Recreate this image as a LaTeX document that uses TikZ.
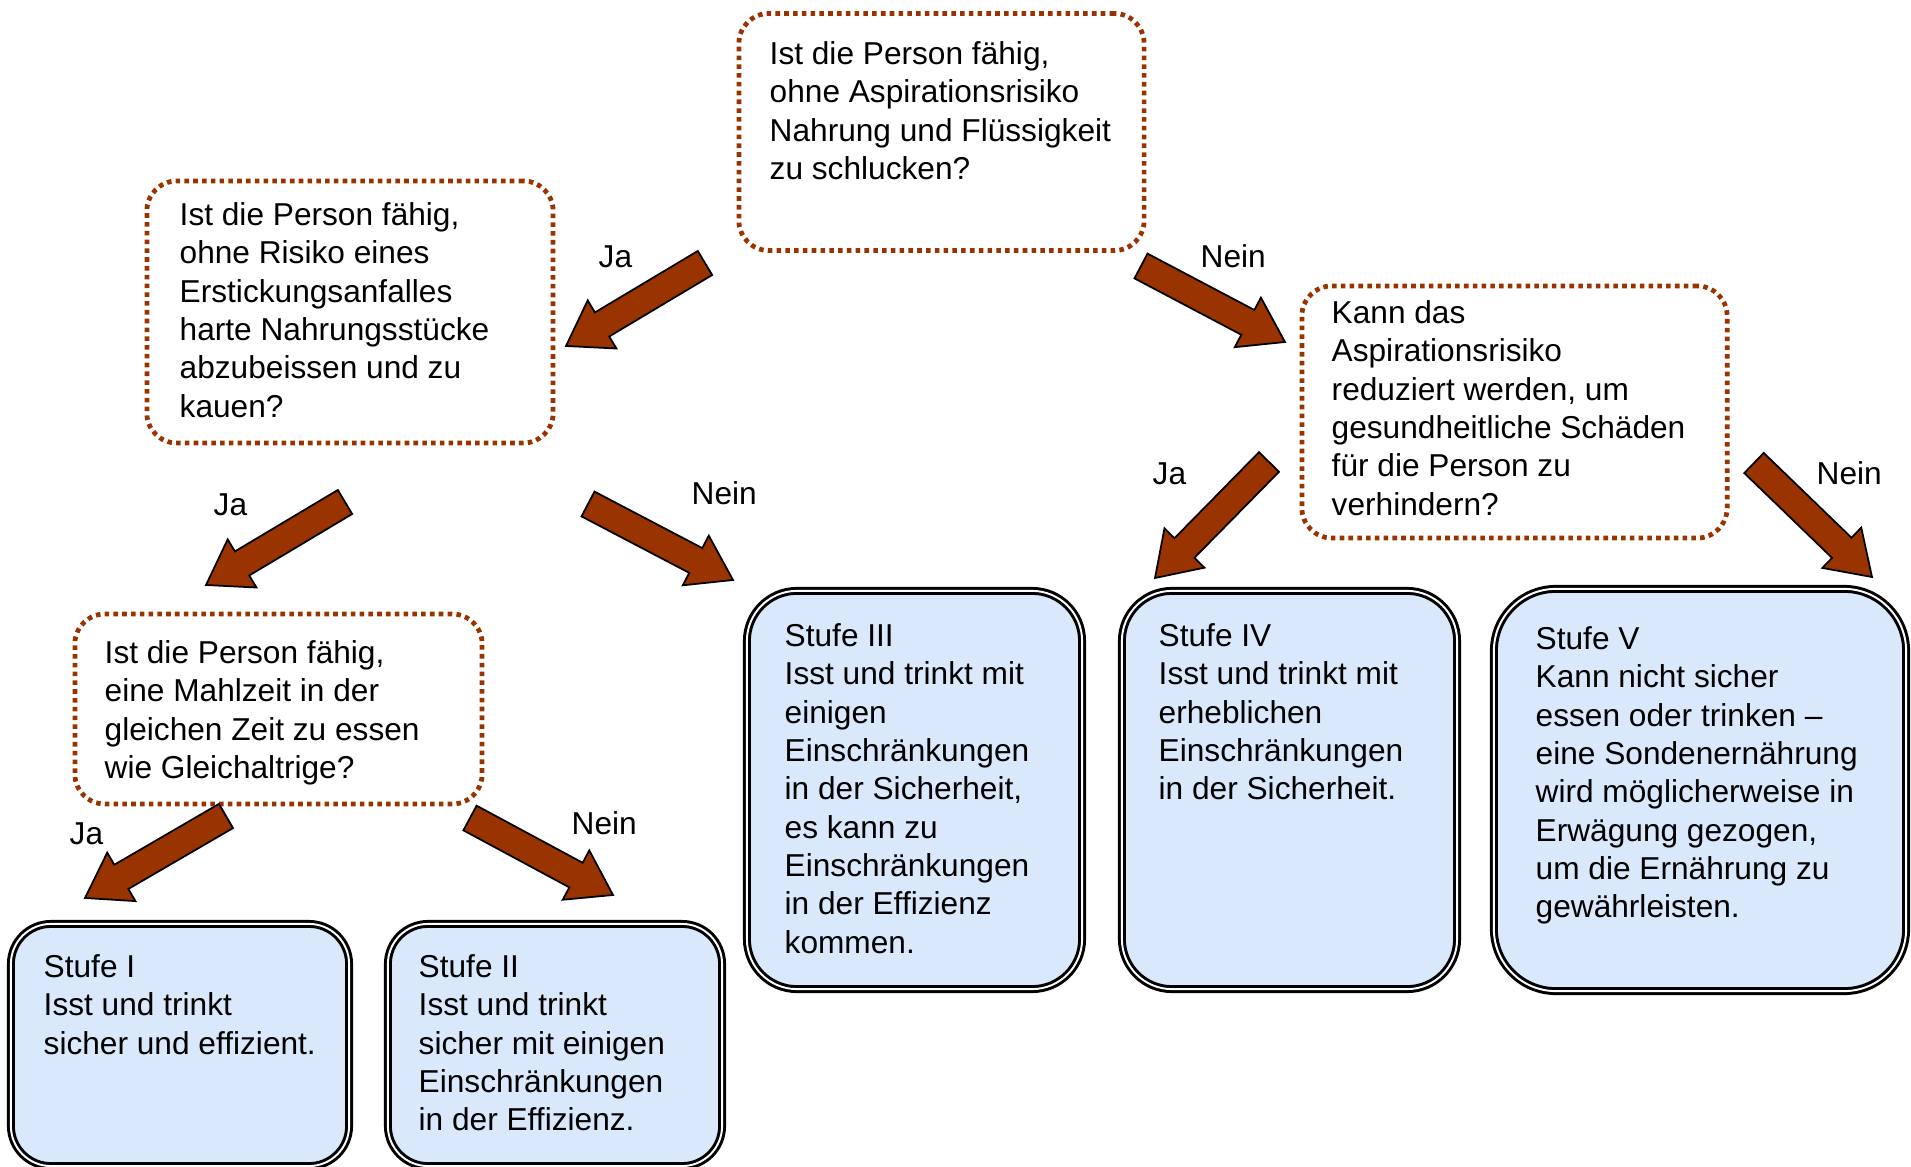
\documentclass[tikz,border=0pt]{standalone}
\usepackage{fontspec}
\setmainfont{Liberation Sans}
\usetikzlibrary{calc}
\definecolor{brn}{HTML}{993300}
\definecolor{lblue}{HTML}{DAE8FC}
\newcommand\blockarrow[2]{%
  \coordinate (#2h) at ($(#2)!11.95pt!(#1)$);
  \draw[blockarr] ($(#1)!3.98pt!90:(#2)$) -- ($(#2h)!3.98pt!90:(#2)$)
    -- ($(#2h)!7.97pt!90:(#2)$) -- (#2) -- ($(#2h)!7.97pt!-90:(#2)$)
    -- ($(#2h)!3.98pt!-90:(#2)$) -- ($(#1)!3.98pt!-90:(#2)$) -- cycle;}
\tikzset{
  qbox/.style={draw=brn, line width=1.35pt, dash pattern=on 1.3pt off 1.2pt,
    rounded corners=0.3cm, inner sep=0pt, outer sep=0pt},
  bluebox/.style={draw=black, double=white, line width=0.85pt, double distance=0.55pt,
    fill=lblue, inner sep=0pt, outer sep=0pt},
  blockarr/.style={draw=black, line width=0.5pt, fill=brn, line join=miter},
  txt/.style={anchor=north west, inner sep=0pt, align=left,
    font=\fontsize{9}{10.9}\selectfont},
  lbl/.style={anchor=base west, inner sep=0pt, font=\fontsize{9}{10.9}\selectfont}
}
\begin{document}
\begin{tikzpicture}[x=0.01cm, y=-0.01cm]
\useasboundingbox[fill=white] (0,0) rectangle (1911,1167);

% question boxes
\node[qbox, minimum width=4.05cm, minimum height=2.37cm] (qa) at (941.5,132) {};
\node[qbox, minimum width=4.06cm, minimum height=2.62cm] (qb) at (350,312) {};
\node[qbox, minimum width=4.25cm, minimum height=2.52cm] (qc) at (1514.5,412) {};
\node[qbox, minimum width=4.07cm, minimum height=1.90cm] (qd) at (278.5,709) {};

% result boxes
\node[bluebox, rounded corners=0.4cm, minimum width=3.38cm, minimum height=2.42cm] (s1) at (180,1045) {};
\node[bluebox, rounded corners=0.4cm, minimum width=3.34cm, minimum height=2.42cm] (s2) at (555,1045) {};
\node[bluebox, rounded corners=0.5cm, minimum width=3.35cm, minimum height=3.98cm] (s3) at (914.5,790) {};
\node[bluebox, rounded corners=0.5cm, minimum width=3.35cm, minimum height=3.98cm] (s4) at (1289.5,790) {};
\node[bluebox, rounded corners=0.62cm, minimum width=4.12cm, minimum height=4.02cm] (s5) at (1700,790) {};

% texts
\node[txt] (ta) at (769,41) {Ist die Person fähig,\\ohne Aspirationsrisiko\\Nahrung und Flüssigkeit\\zu schlucken?};
\node[txt] (tb) at (179,202) {Ist die Person fähig,\\ohne Risiko eines\\Erstickungsanfalles\\harte Nahrungsstücke\\abzubeissen und zu\\kauen?};
\node[txt] (tc) at (1331,300) {Kann das\\Aspirationsrisiko\\reduziert werden, um\\gesundheitliche Schäden\\für die Person zu\\verhindern?};
\node[txt] (td) at (104,640) {Ist die Person fähig,\\eine Mahlzeit in der\\gleichen Zeit zu essen\\wie Gleichaltrige?};
\node[txt] (t1) at (43,954) {Stufe I\\Isst und trinkt\\sicher und effizient.};
\node[txt] (t2) at (418,954) {Stufe II\\Isst und trinkt\\sicher mit einigen\\Einschränkungen\\in der Effizienz.};
\node[txt] (t3) at (784,623) {Stufe III\\Isst und trinkt mit\\einigen\\Einschränkungen\\in der Sicherheit,\\es kann zu\\Einschränkungen\\in der Effizienz\\kommen.};
\node[txt] (t4) at (1158,623) {Stufe IV\\Isst und trinkt mit\\erheblichen\\Einschränkungen\\in der Sicherheit.};
\node[txt] (t5) at (1535,626) {Stufe V\\Kann nicht sicher\\essen oder trinken –\\eine Sondenernährung\\wird möglicherweise in\\Erwägung gezogen,\\um die Ernährung zu\\gewährleisten.};

% arrow end points
\coordinate (a1t) at (705,263);  \coordinate (a1p) at (566,346);
\coordinate (a2t) at (1141,266); \coordinate (a2p) at (1285,342);
\coordinate (a3t) at (345,502);  \coordinate (a3p) at (206,585);
\coordinate (a4t) at (588,504);  \coordinate (a4p) at (733,580);
\coordinate (a5t) at (1269,462); \coordinate (a5p) at (1155,578);
\coordinate (a6t) at (1754,463); \coordinate (a6p) at (1872,577);
\coordinate (a7t) at (226,816);  \coordinate (a7p) at (85,898);
\coordinate (a8t) at (470,818);  \coordinate (a8p) at (613,895);

\blockarrow{a1t}{a1p}
\blockarrow{a2t}{a2p}
\blockarrow{a3t}{a3p}
\blockarrow{a4t}{a4p}
\blockarrow{a5t}{a5p}
\blockarrow{a6t}{a6p}
\blockarrow{a7t}{a7p}
\blockarrow{a8t}{a8p}

% labels
\node[lbl] (l1) at (598,268) {Ja};
\node[lbl] (l2) at (1200,268) {Nein};
\node[lbl] (l3) at (213,516) {Ja};
\node[lbl] (l4) at (691,505) {Nein};
\node[lbl] (l5) at (1152,485) {Ja};
\node[lbl] (l6) at (1816,485) {Nein};
\node[lbl] (l7) at (69,844) {Ja};
\node[lbl] (l8) at (571,835) {Nein};
\end{tikzpicture}
\end{document}
